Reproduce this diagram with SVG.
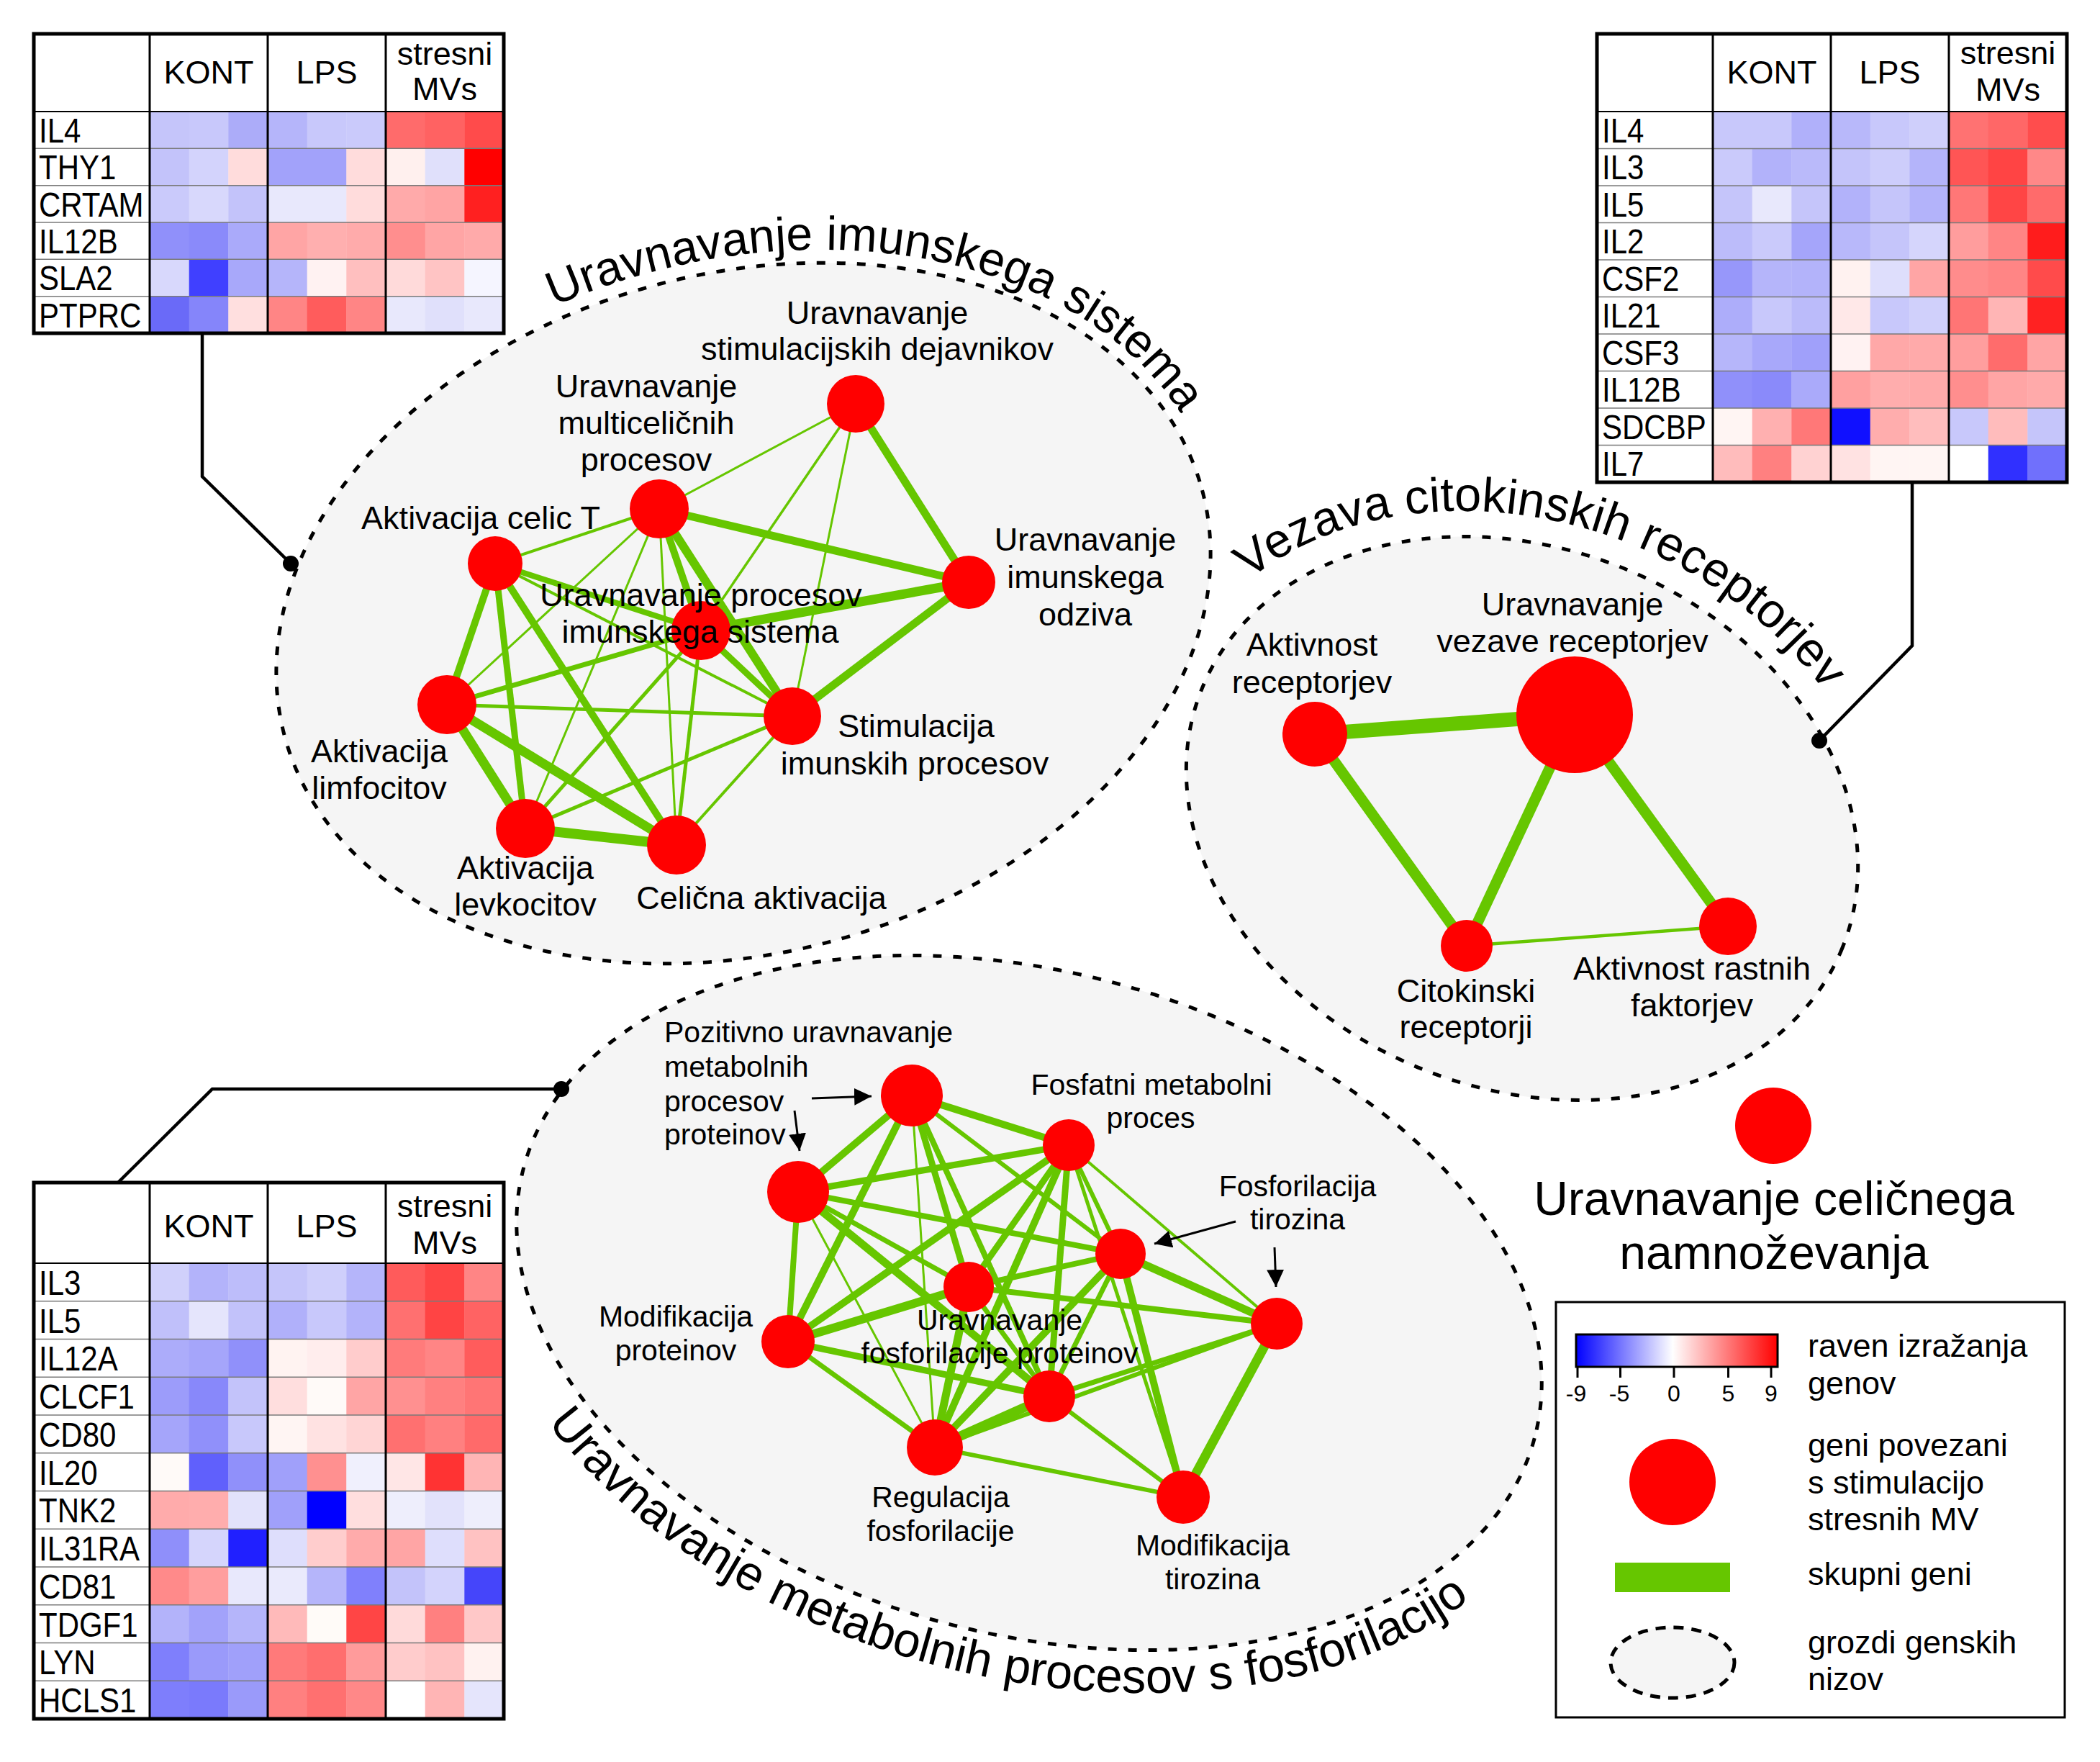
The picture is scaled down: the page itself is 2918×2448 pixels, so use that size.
<svg xmlns="http://www.w3.org/2000/svg" width="2918" height="2448" viewBox="0 0 2918 2448">
<style>
text { font-family: "Liberation Sans", Arial, sans-serif; fill: #000; }
.l45 { font-size: 45px; text-anchor: middle; }
.l41 { font-size: 41px; text-anchor: middle; }
.l41s { font-size: 41px; }
.node { fill: #ff0000; }
.edges line { stroke: #66c600; fill: none; }
.clus { fill: #f5f5f5; stroke: #000; stroke-width: 5; stroke-dasharray: 12 16; }
.lead { stroke: #000; stroke-width: 4.5; fill: none; }
.arr { stroke: #000; stroke-width: 3; marker-end: url(#ah); }
.hmb { fill: none; stroke: #000; stroke-width: 5; }
.hv { stroke: #000; stroke-width: 3; }
.hr { stroke: #7a7a7a; stroke-width: 1.5; }
.hl { font-size: 48px; }
.hh { font-size: 45px; text-anchor: middle; }
.title { font-size: 66px; }
.leg { font-size: 45px; }
.tick { font-size: 32px; text-anchor: middle; }
</style>
<defs>
<marker id="ah" markerUnits="userSpaceOnUse" markerWidth="24" markerHeight="24" viewBox="0 0 24 24" refX="24" refY="12" orient="auto">
<path d="M0,0 L24,12 L0,24 z" fill="#000"/>
</marker>
<linearGradient id="bwr" x1="0" y1="0" x2="1" y2="0">
<stop offset="0" stop-color="#0000ff"/>
<stop offset="0.48" stop-color="#ffffff"/>
<stop offset="1" stop-color="#ff0000"/>
</linearGradient>
<path id="tp1" d="M 770 425.4 A 678 488 -15 0 1 1653 595.4"/>
<path id="tp2" d="M 1725.5 814 A 520 410 22 0 1 2583 1041.8"/>
<path id="tp3" d="M 761 1977 A 787 520 15 0 0 2098.4 2173"/>
</defs>
<rect x="0" y="0" width="2918" height="2448" fill="#ffffff"/>

<!-- clusters -->
<g id="cluster-imunski-sistem">
<ellipse class="clus" cx="1033" cy="852" rx="660" ry="472" transform="rotate(-15 1033 852)"/>
<text class="title"><textPath href="#tp1">Uravnavanje imunskega sistema</textPath></text>
</g>
<g id="cluster-citokinski-receptorji">
<ellipse class="clus" cx="2115" cy="1137" rx="480" ry="375" transform="rotate(22 2115 1137)"/>
<text class="title" style="font-size:67px"><textPath href="#tp2" startOffset="14">Vezava citokinskih receptorjev</textPath></text>
</g>
<g id="cluster-fosforilacija">
<ellipse class="clus" cx="1430" cy="1810" rx="727" ry="460" transform="rotate(15 1430 1810)"/>
<text class="title" style="font-size:67px"><textPath href="#tp3">Uravnavanje metabolnih procesov s fosforilacijo</textPath></text>
</g>

<!-- connectors -->
<g id="connectors">
<g class="edges" id="edges-imunski">
<line x1="1189" y1="561" x2="916" y2="707" stroke-width="3"/>
<line x1="1189" y1="561" x2="1346" y2="809" stroke-width="11"/>
<line x1="1189" y1="561" x2="974" y2="876" stroke-width="3.5"/>
<line x1="1189" y1="561" x2="1101" y2="995" stroke-width="3"/>
<line x1="916" y1="707" x2="688" y2="783" stroke-width="4"/>
<line x1="916" y1="707" x2="1346" y2="809" stroke-width="11"/>
<line x1="916" y1="707" x2="974" y2="876" stroke-width="10"/>
<line x1="916" y1="707" x2="1101" y2="995" stroke-width="12"/>
<line x1="916" y1="707" x2="621" y2="979" stroke-width="3"/>
<line x1="916" y1="707" x2="730" y2="1151" stroke-width="3"/>
<line x1="916" y1="707" x2="940" y2="1174" stroke-width="3"/>
<line x1="688" y1="783" x2="974" y2="876" stroke-width="8"/>
<line x1="688" y1="783" x2="1101" y2="995" stroke-width="4"/>
<line x1="688" y1="783" x2="621" y2="979" stroke-width="10"/>
<line x1="688" y1="783" x2="730" y2="1151" stroke-width="9"/>
<line x1="688" y1="783" x2="940" y2="1174" stroke-width="10"/>
<line x1="974" y1="876" x2="1346" y2="809" stroke-width="13"/>
<line x1="974" y1="876" x2="621" y2="979" stroke-width="7"/>
<line x1="974" y1="876" x2="1101" y2="995" stroke-width="9"/>
<line x1="974" y1="876" x2="730" y2="1151" stroke-width="5"/>
<line x1="974" y1="876" x2="940" y2="1174" stroke-width="5"/>
<line x1="1346" y1="809" x2="1101" y2="995" stroke-width="11"/>
<line x1="621" y1="979" x2="1101" y2="995" stroke-width="5"/>
<line x1="621" y1="979" x2="730" y2="1151" stroke-width="13"/>
<line x1="621" y1="979" x2="940" y2="1174" stroke-width="13"/>
<line x1="1101" y1="995" x2="730" y2="1151" stroke-width="5"/>
<line x1="1101" y1="995" x2="940" y2="1174" stroke-width="4"/>
<line x1="730" y1="1151" x2="940" y2="1174" stroke-width="14"/>
</g>
<g class="edges" id="edges-citokini">
<line x1="1827" y1="1020" x2="2188" y2="993" stroke-width="20"/>
<line x1="1827" y1="1020" x2="2038" y2="1314" stroke-width="15"/>
<line x1="2188" y1="993" x2="2038" y2="1314" stroke-width="15"/>
<line x1="2188" y1="993" x2="2401" y2="1287" stroke-width="15"/>
<line x1="2038" y1="1314" x2="2401" y2="1287" stroke-width="4.5"/>
</g>
<g class="edges" id="edges-fosforilacija">
<line x1="1267" y1="1522" x2="1485" y2="1591" stroke-width="10"/>
<line x1="1267" y1="1522" x2="1109" y2="1656" stroke-width="10"/>
<line x1="1267" y1="1522" x2="1095" y2="1864" stroke-width="10"/>
<line x1="1267" y1="1522" x2="1346" y2="1788" stroke-width="9"/>
<line x1="1267" y1="1522" x2="1458" y2="1940" stroke-width="8"/>
<line x1="1267" y1="1522" x2="1299" y2="2011" stroke-width="3"/>
<line x1="1267" y1="1522" x2="1557" y2="1742" stroke-width="6"/>
<line x1="1485" y1="1591" x2="1109" y2="1656" stroke-width="9"/>
<line x1="1485" y1="1591" x2="1095" y2="1864" stroke-width="10"/>
<line x1="1485" y1="1591" x2="1346" y2="1788" stroke-width="9"/>
<line x1="1485" y1="1591" x2="1299" y2="2011" stroke-width="10"/>
<line x1="1485" y1="1591" x2="1458" y2="1940" stroke-width="9"/>
<line x1="1485" y1="1591" x2="1557" y2="1742" stroke-width="6"/>
<line x1="1485" y1="1591" x2="1774" y2="1839" stroke-width="4"/>
<line x1="1485" y1="1591" x2="1644" y2="2080" stroke-width="5"/>
<line x1="1109" y1="1656" x2="1557" y2="1742" stroke-width="8"/>
<line x1="1109" y1="1656" x2="1458" y2="1940" stroke-width="11"/>
<line x1="1109" y1="1656" x2="1346" y2="1788" stroke-width="7"/>
<line x1="1109" y1="1656" x2="1299" y2="2011" stroke-width="3"/>
<line x1="1109" y1="1656" x2="1095" y2="1864" stroke-width="8"/>
<line x1="1557" y1="1742" x2="1346" y2="1788" stroke-width="8"/>
<line x1="1557" y1="1742" x2="1774" y2="1839" stroke-width="11"/>
<line x1="1557" y1="1742" x2="1299" y2="2011" stroke-width="10"/>
<line x1="1557" y1="1742" x2="1458" y2="1940" stroke-width="7"/>
<line x1="1557" y1="1742" x2="1644" y2="2080" stroke-width="10"/>
<line x1="1346" y1="1788" x2="1774" y2="1839" stroke-width="8"/>
<line x1="1346" y1="1788" x2="1299" y2="2011" stroke-width="11"/>
<line x1="1346" y1="1788" x2="1458" y2="1940" stroke-width="7"/>
<line x1="1346" y1="1788" x2="1095" y2="1864" stroke-width="12"/>
<line x1="1095" y1="1864" x2="1458" y2="1940" stroke-width="9"/>
<line x1="1095" y1="1864" x2="1299" y2="2011" stroke-width="7"/>
<line x1="1774" y1="1839" x2="1458" y2="1940" stroke-width="7"/>
<line x1="1774" y1="1839" x2="1299" y2="2011" stroke-width="6"/>
<line x1="1774" y1="1839" x2="1644" y2="2080" stroke-width="13"/>
<line x1="1458" y1="1940" x2="1299" y2="2011" stroke-width="13"/>
<line x1="1458" y1="1940" x2="1644" y2="2080" stroke-width="6"/>
<line x1="1299" y1="2011" x2="1644" y2="2080" stroke-width="6"/>
</g>
<g id="leaders">
<polyline class="lead" points="281,463 281,662 404,783"/>
<circle cx="404" cy="783" r="11" fill="#000"/>
<polyline class="lead" points="2657,670 2657,897 2528,1029"/>
<circle cx="2528" cy="1029" r="11" fill="#000"/>
<polyline class="lead" points="164,1643 295,1513 780,1513"/>
<circle cx="780" cy="1513" r="11" fill="#000"/>
</g>
<g id="arrows">
<line class="arr" x1="1128" y1="1526" x2="1211" y2="1523"/>
<line class="arr" x1="1104" y1="1543" x2="1111" y2="1599"/>
<line class="arr" x1="1717" y1="1697" x2="1604" y2="1728"/>
<line class="arr" x1="1771" y1="1733" x2="1773" y2="1788"/>
</g>
</g>

<!-- nodes: cluster 1 -->
<g id="n-stimulacijski-dejavniki"><circle class="node" cx="1189" cy="561" r="40"/>
<text class="l45" x="1219" y="450">Uravnavanje</text><text class="l45" x="1219" y="500">stimulacijskih dejavnikov</text></g>
<g id="n-multicelicni-procesi"><circle class="node" cx="916" cy="707" r="41"/>
<text class="l45" x="898" y="552">Uravnavanje</text><text class="l45" x="898" y="603">multiceličnih</text><text class="l45" x="898" y="654">procesov</text></g>
<g id="n-aktivacija-celic-t"><circle class="node" cx="688" cy="783" r="38"/>
<text class="l45" x="668" y="735">Aktivacija celic T</text></g>
<g id="n-imunski-odziv"><circle class="node" cx="1346" cy="809" r="37"/>
<text class="l45" x="1508" y="765">Uravnavanje</text><text class="l45" x="1508" y="817">imunskega</text><text class="l45" x="1508" y="869">odziva</text></g>
<g id="n-procesi-imunskega-sistema"><circle class="node" cx="974" cy="876" r="41"/>
<text class="l45" x="974" y="842">Uravnavanje procesov</text><text class="l45" x="973" y="893">imunskega sistema</text></g>
<g id="n-aktivacija-limfocitov"><circle class="node" cx="621" cy="979" r="41"/>
<text class="l45" x="527" y="1059">Aktivacija</text><text class="l45" x="527" y="1110">limfocitov</text></g>
<g id="n-stimulacija-imunskih-procesov"><circle class="node" cx="1101" cy="995" r="40"/>
<text class="l45" x="1273" y="1024">Stimulacija</text><text class="l45" x="1271" y="1076">imunskih procesov</text></g>
<g id="n-aktivacija-levkocitov"><circle class="node" cx="730" cy="1151" r="41"/>
<text class="l45" x="730" y="1221">Aktivacija</text><text class="l45" x="730" y="1272">levkocitov</text></g>
<g id="n-celicna-aktivacija"><circle class="node" cx="940" cy="1174" r="41"/>
<text class="l45" x="1058" y="1263">Celična aktivacija</text></g>

<!-- nodes: cluster 2 -->
<g id="n-aktivnost-receptorjev"><circle class="node" cx="1827" cy="1020" r="45"/>
<text class="l45" x="1823" y="911">Aktivnost</text><text class="l45" x="1823" y="963">receptorjev</text></g>
<g id="n-vezava-receptorjev"><circle class="node" cx="2188" cy="993" r="81"/>
<text class="l45" x="2185" y="855">Uravnavanje</text><text class="l45" x="2185" y="906">vezave receptorjev</text></g>
<g id="n-citokinski-receptorji"><circle class="node" cx="2038" cy="1314" r="36"/>
<text class="l45" x="2037" y="1392">Citokinski</text><text class="l45" x="2037" y="1442">receptorji</text></g>
<g id="n-rastni-faktorji"><circle class="node" cx="2401" cy="1287" r="40"/>
<text class="l45" x="2351" y="1361">Aktivnost rastnih</text><text class="l45" x="2351" y="1412">faktorjev</text></g>

<!-- nodes: cluster 3 -->
<g id="n-pozitivno-uravnavanje"><circle class="node" cx="1267" cy="1522" r="43"/>
<text class="l41s" x="923" y="1448">Pozitivno uravnavanje</text><text class="l41s" x="923" y="1496">metabolnih</text><text class="l41s" x="923" y="1544">procesov</text><text class="l41s" x="923" y="1590">proteinov</text></g>
<g id="n-fosfatni-metabolni-proces"><circle class="node" cx="1485" cy="1591" r="36"/>
<text class="l41" x="1600" y="1521">Fosfatni metabolni</text><text class="l41" x="1599" y="1567">proces</text></g>
<g id="n-metabolni-procesi-proteinov"><circle class="node" cx="1109" cy="1656" r="43"/></g>
<g id="n-fosforilacija-tirozina-1"><circle class="node" cx="1557" cy="1742" r="35"/>
<text class="l41" x="1803" y="1662">Fosforilacija</text><text class="l41" x="1803" y="1708">tirozina</text></g>
<g id="n-fosforilacija-proteinov"><circle class="node" cx="1346" cy="1788" r="35"/>
<text class="l41" x="1389" y="1848">Uravnavanje</text><text class="l41" x="1389" y="1894">fosforilacije proteinov</text></g>
<g id="n-modifikacija-proteinov"><circle class="node" cx="1095" cy="1864" r="37"/>
<text class="l41" x="939" y="1843">Modifikacija</text><text class="l41" x="939" y="1890">proteinov</text></g>
<g id="n-fosforilacija-tirozina-2"><circle class="node" cx="1774" cy="1839" r="36"/></g>
<g id="n-fosforilacija-3"><circle class="node" cx="1458" cy="1940" r="36"/></g>
<g id="n-regulacija-fosforilacije"><circle class="node" cx="1299" cy="2011" r="39"/>
<text class="l41" x="1307" y="2094">Regulacija</text><text class="l41" x="1307" y="2141">fosforilacije</text></g>
<g id="n-modifikacija-tirozina"><circle class="node" cx="1644" cy="2080" r="37"/>
<text class="l41" x="1685" y="2161">Modifikacija</text><text class="l41" x="1685" y="2208">tirozina</text></g>

<!-- standalone node -->
<g id="n-celicno-namnozevanje"><circle class="node" cx="2464" cy="1564" r="53"/>
<text style="font-size:66px;text-anchor:middle" x="2465" y="1688">Uravnavanje celičnega</text>
<text style="font-size:66px;text-anchor:middle" x="2465" y="1763">namnoževanja</text></g>

<!-- heatmap 1 -->
<g id="heatmap-1" transform="translate(47,47)">
<rect x="0" y="0" width="653" height="416" fill="#fff"/>
<g transform="translate(0,108)"><rect x="161" width="55" height="52" fill="#c5c5fa"/><rect x="215.7" width="55" height="52" fill="#c8c8fb"/><rect x="270.3" width="55" height="52" fill="#acacf9"/><rect x="325" width="55" height="52" fill="#b5b5fa"/><rect x="379.7" width="55" height="52" fill="#c8c8fb"/><rect x="434.3" width="55" height="52" fill="#cacafb"/><rect x="489" width="55" height="52" fill="#ff6b6b"/><rect x="543.7" width="55" height="52" fill="#ff6262"/><rect x="598.3" width="55" height="52" fill="#ff4b4b"/></g>
<g transform="translate(0,159.3)"><rect x="161" width="55" height="52" fill="#c3c3fa"/><rect x="215.7" width="55" height="52" fill="#d3d3fc"/><rect x="270.3" width="55" height="52" fill="#ffdcdc"/><rect x="325" width="55" height="52" fill="#a2a2fa"/><rect x="379.7" width="55" height="52" fill="#a2a2fa"/><rect x="434.3" width="55" height="52" fill="#ffdcdc"/><rect x="489" width="55" height="52" fill="#fff0ee"/><rect x="543.7" width="55" height="52" fill="#e0e0fb"/><rect x="598.3" width="55" height="52" fill="#ff0000"/></g>
<g transform="translate(0,210.7)"><rect x="161" width="55" height="52" fill="#cacafb"/><rect x="215.7" width="55" height="52" fill="#d8d8fc"/><rect x="270.3" width="55" height="52" fill="#c3c3fa"/><rect x="325" width="55" height="52" fill="#e8e8fc"/><rect x="379.7" width="55" height="52" fill="#e8e8fc"/><rect x="434.3" width="55" height="52" fill="#ffdcdc"/><rect x="489" width="55" height="52" fill="#ffaaaa"/><rect x="543.7" width="55" height="52" fill="#ffa4a4"/><rect x="598.3" width="55" height="52" fill="#ff2020"/></g>
<g transform="translate(0,262)"><rect x="161" width="55" height="52" fill="#9090fa"/><rect x="215.7" width="55" height="52" fill="#8a8afa"/><rect x="270.3" width="55" height="52" fill="#aaaafa"/><rect x="325" width="55" height="52" fill="#ffa5a5"/><rect x="379.7" width="55" height="52" fill="#ffafaf"/><rect x="434.3" width="55" height="52" fill="#ffabab"/><rect x="489" width="55" height="52" fill="#ff8e8e"/><rect x="543.7" width="55" height="52" fill="#ffa5a5"/><rect x="598.3" width="55" height="52" fill="#ffaaaa"/></g>
<g transform="translate(0,313.3)"><rect x="161" width="55" height="52" fill="#d8d8fc"/><rect x="215.7" width="55" height="52" fill="#4040ff"/><rect x="270.3" width="55" height="52" fill="#a8a8fa"/><rect x="325" width="55" height="52" fill="#b5b5fa"/><rect x="379.7" width="55" height="52" fill="#fff2f2"/><rect x="434.3" width="55" height="52" fill="#ffbfbf"/><rect x="489" width="55" height="52" fill="#ffdada"/><rect x="543.7" width="55" height="52" fill="#ffc4c4"/><rect x="598.3" width="55" height="52" fill="#f5f5ff"/></g>
<g transform="translate(0,364.7)"><rect x="161" width="55" height="51.3" fill="#6a6af8"/><rect x="215.7" width="55" height="51.3" fill="#8585fa"/><rect x="270.3" width="55" height="51.3" fill="#ffdfdf"/><rect x="325" width="55" height="51.3" fill="#ff8585"/><rect x="379.7" width="55" height="51.3" fill="#ff5c5c"/><rect x="434.3" width="55" height="51.3" fill="#ff8585"/><rect x="489" width="55" height="51.3" fill="#e8e8fc"/><rect x="543.7" width="55" height="51.3" fill="#e0e0fb"/><rect x="598.3" width="55" height="51.3" fill="#e8e8fc"/></g>
<line class="hr" x1="0" y1="159.3" x2="653" y2="159.3"/><line class="hr" x1="0" y1="210.7" x2="653" y2="210.7"/><line class="hr" x1="0" y1="262" x2="653" y2="262"/><line class="hr" x1="0" y1="313.3" x2="653" y2="313.3"/><line class="hr" x1="0" y1="364.7" x2="653" y2="364.7"/>
<line class="hv" x1="0" y1="108" x2="653" y2="108" style="stroke-width:2"/>
<line class="hv" x1="161" y1="0" x2="161" y2="416"/><line class="hv" x1="325" y1="0" x2="325" y2="416"/><line class="hv" x1="489" y1="0" x2="489" y2="416"/>
<rect class="hmb" x="0" y="0" width="653" height="416"/>
<text class="hh" x="243" y="69">KONT</text><text class="hh" x="407" y="69">LPS</text><text class="hh" x="571" y="43">stresni</text><text class="hh" x="571" y="92">MVs</text>
<g transform="scale(0.875 1)">
<text class="hl" x="8" y="151">IL4</text><text class="hl" x="8" y="202.3">THY1</text><text class="hl" x="8" y="253.7">CRTAM</text><text class="hl" x="8" y="305">IL12B</text><text class="hl" x="8" y="356.3">SLA2</text><text class="hl" x="8" y="407.7">PTPRC</text>
</g>
</g>

<!-- heatmap 2 -->
<g id="heatmap-2" transform="translate(2219,47)">
<rect x="0" y="0" width="653" height="623" fill="#fff"/>
<g transform="translate(0,108)"><rect x="161" width="55" height="52.5" fill="#c8c8fb"/><rect x="215.7" width="55" height="52.5" fill="#c8c8fb"/><rect x="270.3" width="55" height="52.5" fill="#b0b0fa"/><rect x="325" width="55" height="52.5" fill="#b8b8fa"/><rect x="379.7" width="55" height="52.5" fill="#c8c8fb"/><rect x="434.3" width="55" height="52.5" fill="#cfcffb"/><rect x="489" width="55" height="52.5" fill="#ff7272"/><rect x="543.7" width="55" height="52.5" fill="#ff6767"/><rect x="598.3" width="55" height="52.5" fill="#ff4d4d"/></g>
<g transform="translate(0,159.5)"><rect x="161" width="55" height="52.5" fill="#cacafb"/><rect x="215.7" width="55" height="52.5" fill="#b2b2fa"/><rect x="270.3" width="55" height="52.5" fill="#babafa"/><rect x="325" width="55" height="52.5" fill="#c4c4fa"/><rect x="379.7" width="55" height="52.5" fill="#cdcdfb"/><rect x="434.3" width="55" height="52.5" fill="#b4b4fa"/><rect x="489" width="55" height="52.5" fill="#ff5555"/><rect x="543.7" width="55" height="52.5" fill="#ff4444"/><rect x="598.3" width="55" height="52.5" fill="#ff8888"/></g>
<g transform="translate(0,211)"><rect x="161" width="55" height="52.5" fill="#c5c5fa"/><rect x="215.7" width="55" height="52.5" fill="#e8e8fc"/><rect x="270.3" width="55" height="52.5" fill="#c5c5fa"/><rect x="325" width="55" height="52.5" fill="#b2b2fa"/><rect x="379.7" width="55" height="52.5" fill="#c5c5fa"/><rect x="434.3" width="55" height="52.5" fill="#b3b3fa"/><rect x="489" width="55" height="52.5" fill="#ff7777"/><rect x="543.7" width="55" height="52.5" fill="#ff4545"/><rect x="598.3" width="55" height="52.5" fill="#ff6b6b"/></g>
<g transform="translate(0,262.5)"><rect x="161" width="55" height="52.5" fill="#bcbcfa"/><rect x="215.7" width="55" height="52.5" fill="#cacafb"/><rect x="270.3" width="55" height="52.5" fill="#a5a5fa"/><rect x="325" width="55" height="52.5" fill="#b8b8fa"/><rect x="379.7" width="55" height="52.5" fill="#c5c5fa"/><rect x="434.3" width="55" height="52.5" fill="#d5d5fc"/><rect x="489" width="55" height="52.5" fill="#ff9d9d"/><rect x="543.7" width="55" height="52.5" fill="#ff8585"/><rect x="598.3" width="55" height="52.5" fill="#ff1c1c"/></g>
<g transform="translate(0,314)"><rect x="161" width="55" height="52.5" fill="#9797fa"/><rect x="215.7" width="55" height="52.5" fill="#b5b5fa"/><rect x="270.3" width="55" height="52.5" fill="#b3b3fa"/><rect x="325" width="55" height="52.5" fill="#fff2f0"/><rect x="379.7" width="55" height="52.5" fill="#dedefc"/><rect x="434.3" width="55" height="52.5" fill="#ffa5a5"/><rect x="489" width="55" height="52.5" fill="#ff8c8c"/><rect x="543.7" width="55" height="52.5" fill="#ff8585"/><rect x="598.3" width="55" height="52.5" fill="#ff4b4b"/></g>
<g transform="translate(0,365.5)"><rect x="161" width="55" height="52.5" fill="#adadfa"/><rect x="215.7" width="55" height="52.5" fill="#c8c8fb"/><rect x="270.3" width="55" height="52.5" fill="#bbbbfa"/><rect x="325" width="55" height="52.5" fill="#ffe8e8"/><rect x="379.7" width="55" height="52.5" fill="#c8c8fb"/><rect x="434.3" width="55" height="52.5" fill="#d0d0fb"/><rect x="489" width="55" height="52.5" fill="#ff7575"/><rect x="543.7" width="55" height="52.5" fill="#ffb5b5"/><rect x="598.3" width="55" height="52.5" fill="#ff2222"/></g>
<g transform="translate(0,417)"><rect x="161" width="55" height="52.5" fill="#b6b6fa"/><rect x="215.7" width="55" height="52.5" fill="#a8a8fa"/><rect x="270.3" width="55" height="52.5" fill="#a0a0fa"/><rect x="325" width="55" height="52.5" fill="#fff2f2"/><rect x="379.7" width="55" height="52.5" fill="#ffa8a8"/><rect x="434.3" width="55" height="52.5" fill="#ffaaaa"/><rect x="489" width="55" height="52.5" fill="#ff9e9e"/><rect x="543.7" width="55" height="52.5" fill="#ff6c6c"/><rect x="598.3" width="55" height="52.5" fill="#ffa5a5"/></g>
<g transform="translate(0,468.5)"><rect x="161" width="55" height="52.5" fill="#9090fa"/><rect x="215.7" width="55" height="52.5" fill="#8a8afa"/><rect x="270.3" width="55" height="52.5" fill="#aaaafa"/><rect x="325" width="55" height="52.5" fill="#ffa0a0"/><rect x="379.7" width="55" height="52.5" fill="#ffadad"/><rect x="434.3" width="55" height="52.5" fill="#ffaaaa"/><rect x="489" width="55" height="52.5" fill="#ff8e8e"/><rect x="543.7" width="55" height="52.5" fill="#ffa5a5"/><rect x="598.3" width="55" height="52.5" fill="#ffaaaa"/></g>
<g transform="translate(0,520)"><rect x="161" width="55" height="52.5" fill="#fff5f3"/><rect x="215.7" width="55" height="52.5" fill="#ffb0b0"/><rect x="270.3" width="55" height="52.5" fill="#ff7878"/><rect x="325" width="55" height="52.5" fill="#1010ff"/><rect x="379.7" width="55" height="52.5" fill="#ffadad"/><rect x="434.3" width="55" height="52.5" fill="#ffbdbd"/><rect x="489" width="55" height="52.5" fill="#c8c8fb"/><rect x="543.7" width="55" height="52.5" fill="#ffbcbc"/><rect x="598.3" width="55" height="52.5" fill="#c5c5fa"/></g>
<g transform="translate(0,571.5)"><rect x="161" width="55" height="51.5" fill="#ffbcbc"/><rect x="215.7" width="55" height="51.5" fill="#ff8080"/><rect x="270.3" width="55" height="51.5" fill="#ffd2d2"/><rect x="325" width="55" height="51.5" fill="#ffe2e2"/><rect x="379.7" width="55" height="51.5" fill="#fff5f3"/><rect x="434.3" width="55" height="51.5" fill="#fff5f3"/><rect x="489" width="55" height="51.5" fill="#ffffff"/><rect x="543.7" width="55" height="51.5" fill="#3030ff"/><rect x="598.3" width="55" height="51.5" fill="#7070fc"/></g>
<line class="hr" x1="0" y1="159.5" x2="653" y2="159.5"/><line class="hr" x1="0" y1="211" x2="653" y2="211"/><line class="hr" x1="0" y1="262.5" x2="653" y2="262.5"/><line class="hr" x1="0" y1="314" x2="653" y2="314"/><line class="hr" x1="0" y1="365.5" x2="653" y2="365.5"/><line class="hr" x1="0" y1="417" x2="653" y2="417"/><line class="hr" x1="0" y1="468.5" x2="653" y2="468.5"/><line class="hr" x1="0" y1="520" x2="653" y2="520"/><line class="hr" x1="0" y1="571.5" x2="653" y2="571.5"/>
<line class="hv" x1="0" y1="108" x2="653" y2="108" style="stroke-width:2"/>
<line class="hv" x1="161" y1="0" x2="161" y2="623"/><line class="hv" x1="325" y1="0" x2="325" y2="623"/><line class="hv" x1="489" y1="0" x2="489" y2="623"/>
<rect class="hmb" x="0" y="0" width="653" height="623"/>
<text class="hh" x="243" y="69">KONT</text><text class="hh" x="407" y="69">LPS</text><text class="hh" x="571" y="42">stresni</text><text class="hh" x="571" y="93">MVs</text>
<g transform="scale(0.875 1)">
<text class="hl" x="8" y="151">IL4</text><text class="hl" x="8" y="202.5">IL3</text><text class="hl" x="8" y="254">IL5</text><text class="hl" x="8" y="305.5">IL2</text><text class="hl" x="8" y="357">CSF2</text><text class="hl" x="8" y="408.5">IL21</text><text class="hl" x="8" y="460">CSF3</text><text class="hl" x="8" y="511.5">IL12B</text><text class="hl" x="8" y="563">SDCBP</text><text class="hl" x="8" y="614.5">IL7</text>
</g>
</g>

<!-- heatmap 3 -->
<g id="heatmap-3" transform="translate(47,1643)">
<rect x="0" y="0" width="653" height="745" fill="#fff"/>
<g transform="translate(0,112)"><rect x="161" width="55" height="53.8" fill="#d0d0fb"/><rect x="215.7" width="55" height="53.8" fill="#b3b3fa"/><rect x="270.3" width="55" height="53.8" fill="#bdbdfa"/><rect x="325" width="55" height="53.8" fill="#c5c5fa"/><rect x="379.7" width="55" height="53.8" fill="#cfcffb"/><rect x="434.3" width="55" height="53.8" fill="#b5b5fa"/><rect x="489" width="55" height="53.8" fill="#ff5b5b"/><rect x="543.7" width="55" height="53.8" fill="#ff4545"/><rect x="598.3" width="55" height="53.8" fill="#ff8585"/></g>
<g transform="translate(0,164.75)"><rect x="161" width="55" height="53.8" fill="#c0c0fa"/><rect x="215.7" width="55" height="53.8" fill="#e5e5fc"/><rect x="270.3" width="55" height="53.8" fill="#c2c2fa"/><rect x="325" width="55" height="53.8" fill="#b0b0fa"/><rect x="379.7" width="55" height="53.8" fill="#c8c8fb"/><rect x="434.3" width="55" height="53.8" fill="#b3b3fa"/><rect x="489" width="55" height="53.8" fill="#ff7070"/><rect x="543.7" width="55" height="53.8" fill="#ff4444"/><rect x="598.3" width="55" height="53.8" fill="#ff6363"/></g>
<g transform="translate(0,217.5)"><rect x="161" width="55" height="53.8" fill="#acacfa"/><rect x="215.7" width="55" height="53.8" fill="#a5a5fa"/><rect x="270.3" width="55" height="53.8" fill="#9090fa"/><rect x="325" width="55" height="53.8" fill="#fff3f1"/><rect x="379.7" width="55" height="53.8" fill="#ffeded"/><rect x="434.3" width="55" height="53.8" fill="#ffcccc"/><rect x="489" width="55" height="53.8" fill="#ff7b7b"/><rect x="543.7" width="55" height="53.8" fill="#ff8585"/><rect x="598.3" width="55" height="53.8" fill="#ff5c5c"/></g>
<g transform="translate(0,270.25)"><rect x="161" width="55" height="53.8" fill="#9c9cfa"/><rect x="215.7" width="55" height="53.8" fill="#8888fa"/><rect x="270.3" width="55" height="53.8" fill="#c3c3fa"/><rect x="325" width="55" height="53.8" fill="#ffdede"/><rect x="379.7" width="55" height="53.8" fill="#fffaf8"/><rect x="434.3" width="55" height="53.8" fill="#ffa5a5"/><rect x="489" width="55" height="53.8" fill="#ff9090"/><rect x="543.7" width="55" height="53.8" fill="#ff8080"/><rect x="598.3" width="55" height="53.8" fill="#ff7575"/></g>
<g transform="translate(0,323)"><rect x="161" width="55" height="53.8" fill="#a5a5fa"/><rect x="215.7" width="55" height="53.8" fill="#9090fa"/><rect x="270.3" width="55" height="53.8" fill="#c8c8fb"/><rect x="325" width="55" height="53.8" fill="#fff5f3"/><rect x="379.7" width="55" height="53.8" fill="#ffe2e2"/><rect x="434.3" width="55" height="53.8" fill="#ffd5d5"/><rect x="489" width="55" height="53.8" fill="#ff7070"/><rect x="543.7" width="55" height="53.8" fill="#ff8080"/><rect x="598.3" width="55" height="53.8" fill="#ff6a6a"/></g>
<g transform="translate(0,375.75)"><rect x="161" width="55" height="53.8" fill="#fffaf8"/><rect x="215.7" width="55" height="53.8" fill="#6060fc"/><rect x="270.3" width="55" height="53.8" fill="#9090fa"/><rect x="325" width="55" height="53.8" fill="#a0a0fa"/><rect x="379.7" width="55" height="53.8" fill="#ff9090"/><rect x="434.3" width="55" height="53.8" fill="#f0f0fd"/><rect x="489" width="55" height="53.8" fill="#ffe6e6"/><rect x="543.7" width="55" height="53.8" fill="#ff3333"/><rect x="598.3" width="55" height="53.8" fill="#ffb5b5"/></g>
<g transform="translate(0,428.5)"><rect x="161" width="55" height="53.8" fill="#ffabab"/><rect x="215.7" width="55" height="53.8" fill="#ffadad"/><rect x="270.3" width="55" height="53.8" fill="#e2e2fb"/><rect x="325" width="55" height="53.8" fill="#a0a0fa"/><rect x="379.7" width="55" height="53.8" fill="#0000ff"/><rect x="434.3" width="55" height="53.8" fill="#ffdede"/><rect x="489" width="55" height="53.8" fill="#eeeefc"/><rect x="543.7" width="55" height="53.8" fill="#e2e2fb"/><rect x="598.3" width="55" height="53.8" fill="#eeeefc"/></g>
<g transform="translate(0,481.25)"><rect x="161" width="55" height="53.8" fill="#8f8ffa"/><rect x="215.7" width="55" height="53.8" fill="#d5d5fc"/><rect x="270.3" width="55" height="53.8" fill="#2020ff"/><rect x="325" width="55" height="53.8" fill="#dedefc"/><rect x="379.7" width="55" height="53.8" fill="#ffcdcd"/><rect x="434.3" width="55" height="53.8" fill="#ffabab"/><rect x="489" width="55" height="53.8" fill="#ffa5a5"/><rect x="543.7" width="55" height="53.8" fill="#dedefc"/><rect x="598.3" width="55" height="53.8" fill="#ffc2c2"/></g>
<g transform="translate(0,534)"><rect x="161" width="55" height="53.8" fill="#ff8a8a"/><rect x="215.7" width="55" height="53.8" fill="#ff9e9e"/><rect x="270.3" width="55" height="53.8" fill="#e8e8fc"/><rect x="325" width="55" height="53.8" fill="#eaeafc"/><rect x="379.7" width="55" height="53.8" fill="#b5b5fa"/><rect x="434.3" width="55" height="53.8" fill="#8080fc"/><rect x="489" width="55" height="53.8" fill="#c3c3fa"/><rect x="543.7" width="55" height="53.8" fill="#d3d3fc"/><rect x="598.3" width="55" height="53.8" fill="#4545fa"/></g>
<g transform="translate(0,586.75)"><rect x="161" width="55" height="53.8" fill="#b3b3fa"/><rect x="215.7" width="55" height="53.8" fill="#a2a2fa"/><rect x="270.3" width="55" height="53.8" fill="#b5b5fa"/><rect x="325" width="55" height="53.8" fill="#ffbaba"/><rect x="379.7" width="55" height="53.8" fill="#fffbf8"/><rect x="434.3" width="55" height="53.8" fill="#ff4545"/><rect x="489" width="55" height="53.8" fill="#ffdada"/><rect x="543.7" width="55" height="53.8" fill="#ff8080"/><rect x="598.3" width="55" height="53.8" fill="#ffc8c8"/></g>
<g transform="translate(0,639.5)"><rect x="161" width="55" height="53.8" fill="#7f7ffc"/><rect x="215.7" width="55" height="53.8" fill="#9a9afa"/><rect x="270.3" width="55" height="53.8" fill="#a0a0fa"/><rect x="325" width="55" height="53.8" fill="#ff7a7a"/><rect x="379.7" width="55" height="53.8" fill="#ff6e6e"/><rect x="434.3" width="55" height="53.8" fill="#ff9b9b"/><rect x="489" width="55" height="53.8" fill="#ffcccc"/><rect x="543.7" width="55" height="53.8" fill="#ffc2c2"/><rect x="598.3" width="55" height="53.8" fill="#fff2f0"/></g>
<g transform="translate(0,692.25)"><rect x="161" width="55" height="52.75" fill="#7e7efc"/><rect x="215.7" width="55" height="52.75" fill="#7a7afc"/><rect x="270.3" width="55" height="52.75" fill="#9a9afa"/><rect x="325" width="55" height="52.75" fill="#ff8080"/><rect x="379.7" width="55" height="52.75" fill="#ff7070"/><rect x="434.3" width="55" height="52.75" fill="#ff8888"/><rect x="489" width="55" height="52.75" fill="#ffffff"/><rect x="543.7" width="55" height="52.75" fill="#ffb5b5"/><rect x="598.3" width="55" height="52.75" fill="#e5e5fc"/></g>
<line class="hr" x1="0" y1="164.75" x2="653" y2="164.75"/><line class="hr" x1="0" y1="217.5" x2="653" y2="217.5"/><line class="hr" x1="0" y1="270.25" x2="653" y2="270.25"/><line class="hr" x1="0" y1="323" x2="653" y2="323"/><line class="hr" x1="0" y1="375.75" x2="653" y2="375.75"/><line class="hr" x1="0" y1="428.5" x2="653" y2="428.5"/><line class="hr" x1="0" y1="481.25" x2="653" y2="481.25"/><line class="hr" x1="0" y1="534" x2="653" y2="534"/><line class="hr" x1="0" y1="586.75" x2="653" y2="586.75"/><line class="hr" x1="0" y1="639.5" x2="653" y2="639.5"/><line class="hr" x1="0" y1="692.25" x2="653" y2="692.25"/>
<line class="hv" x1="0" y1="112" x2="653" y2="112" style="stroke-width:2"/>
<line class="hv" x1="161" y1="0" x2="161" y2="745"/><line class="hv" x1="325" y1="0" x2="325" y2="745"/><line class="hv" x1="489" y1="0" x2="489" y2="745"/>
<rect class="hmb" x="0" y="0" width="653" height="745"/>
<text class="hh" x="243" y="76">KONT</text><text class="hh" x="407" y="76">LPS</text><text class="hh" x="571" y="48">stresni</text><text class="hh" x="571" y="99">MVs</text>
<g transform="scale(0.875 1)">
<text class="hl" x="8" y="156">IL3</text><text class="hl" x="8" y="208.75">IL5</text><text class="hl" x="8" y="261.5">IL12A</text><text class="hl" x="8" y="314.25">CLCF1</text><text class="hl" x="8" y="367">CD80</text><text class="hl" x="8" y="419.75">IL20</text><text class="hl" x="8" y="472.5">TNK2</text><text class="hl" x="8" y="525.25">IL31RA</text><text class="hl" x="8" y="578">CD81</text><text class="hl" x="8" y="630.75">TDGF1</text><text class="hl" x="8" y="683.5">LYN</text><text class="hl" x="8" y="736.25">HCLS1</text>
</g>
</g>

<!-- legend -->
<g id="legend">
<rect x="2162" y="1809" width="707" height="577" fill="#fff" stroke="#000" stroke-width="3"/>
<rect x="2190" y="1854" width="280" height="45" fill="url(#bwr)" stroke="#000" stroke-width="3"/>
<g stroke="#000" stroke-width="3">
<line x1="2192" y1="1899" x2="2192" y2="1914"/><line x1="2251.5" y1="1899" x2="2251.5" y2="1914"/><line x1="2326" y1="1899" x2="2326" y2="1914"/><line x1="2401.5" y1="1899" x2="2401.5" y2="1914"/><line x1="2461" y1="1899" x2="2461" y2="1914"/>
</g>
<text class="tick" x="2190" y="1947">-9</text><text class="tick" x="2250" y="1947">-5</text><text class="tick" x="2326" y="1947">0</text><text class="tick" x="2401.5" y="1947">5</text><text class="tick" x="2461" y="1947">9</text>
<text class="leg" x="2512" y="1885">raven izražanja</text><text class="leg" x="2512" y="1937">genov</text>
<circle class="node" cx="2324" cy="2059" r="60"/>
<text class="leg" x="2512" y="2023">geni povezani</text><text class="leg" x="2512" y="2075">s stimulacijo</text><text class="leg" x="2512" y="2126">stresnih MV</text>
<rect x="2244" y="2171" width="160" height="41" fill="#66c600"/>
<text class="leg" x="2512" y="2202">skupni geni</text>
<ellipse cx="2324" cy="2310" rx="86" ry="49" fill="#f5f5f5" stroke="#000" stroke-width="5" stroke-dasharray="14 11"/>
<text class="leg" x="2512" y="2297">grozdi genskih</text><text class="leg" x="2512" y="2348">nizov</text>
</g>
</svg>
